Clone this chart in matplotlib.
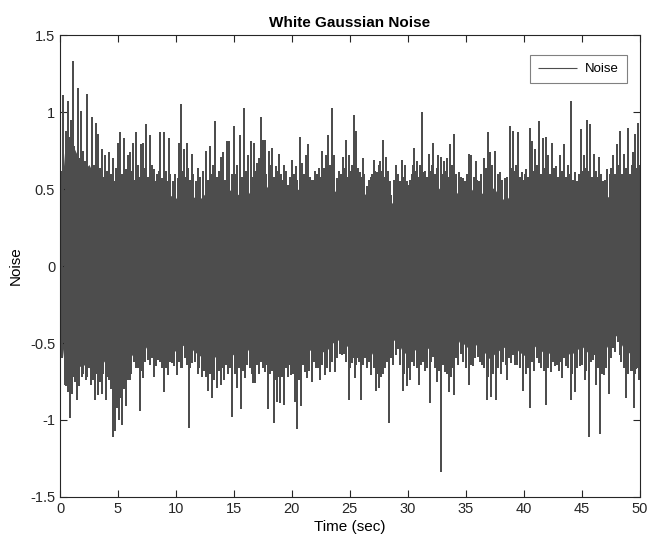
import numpy as np
import matplotlib
matplotlib.use("Agg")
import matplotlib.pyplot as plt

plt.rcParams['font.family'] = ['Liberation Sans', 'DejaVu Sans']
plt.rcParams['axes.unicode_minus'] = False

# dense core of the noise band, read every 0.5 s
band_t = [i * 0.5 for i in range(101)]
band_hi = [0.35, 0.85, 0.80, 0.72, 0.62, 0.66, 0.58, 0.60, 0.55, 0.52, 0.56, 0.55, 0.52,
           0.55, 0.50, 0.52, 0.47, 0.50, 0.48, 0.46, 0.44, 0.52, 0.48, 0.45, 0.43, 0.47,
           0.46, 0.50, 0.44, 0.50, 0.48, 0.46, 0.44, 0.50, 0.52, 0.55, 0.50, 0.48, 0.52,
           0.46, 0.47, 0.50, 0.48, 0.50, 0.45, 0.48, 0.46, 0.50, 0.47, 0.49, 0.46, 0.52,
           0.48, 0.46, 0.49, 0.52, 0.50, 0.40, 0.44, 0.47, 0.43, 0.49, 0.50, 0.47, 0.50,
           0.52, 0.48, 0.46, 0.50, 0.45, 0.44, 0.50, 0.45, 0.48, 0.52, 0.50, 0.44, 0.43,
           0.48, 0.50, 0.46, 0.48, 0.52, 0.50, 0.49, 0.52, 0.46, 0.50, 0.47, 0.42, 0.48,
           0.50, 0.46, 0.48, 0.44, 0.46, 0.48, 0.50, 0.47, 0.46, 0.50]
band_lo = [-0.40, -0.72, -0.70, -0.66, -0.64, -0.66, -0.63, -0.65, -0.60, -0.72, -0.70,
           -0.66, -0.60, -0.55, -0.58, -0.52, -0.55, -0.53, -0.58, -0.56, -0.55, -0.52,
           -0.50, -0.55, -0.58, -0.60, -0.62, -0.58, -0.57, -0.55, -0.58, -0.56, -0.52,
           -0.58, -0.55, -0.56, -0.60, -0.62, -0.60, -0.56, -0.55, -0.58, -0.54, -0.55,
           -0.52, -0.56, -0.55, -0.50, -0.48, -0.50, -0.54, -0.52, -0.55, -0.52, -0.58,
           -0.60, -0.55, -0.50, -0.47, -0.55, -0.58, -0.54, -0.56, -0.52, -0.55, -0.57,
           -0.54, -0.58, -0.55, -0.48, -0.52, -0.55, -0.50, -0.55, -0.60, -0.57, -0.54,
           -0.52, -0.50, -0.55, -0.58, -0.56, -0.52, -0.55, -0.58, -0.54, -0.55, -0.53,
           -0.58, -0.55, -0.52, -0.56, -0.50, -0.58, -0.55, -0.48, -0.45, -0.52, -0.56,
           -0.58, -0.55]

# tall positive peaks
peak_t = [0.29, 0.66, 0.92, 1.09, 1.55, 1.78, 2.02, 2.36, 2.53, 2.79, 3.13, 3.30, 3.59,
          3.88, 4.25, 4.60, 4.97, 5.20, 5.49, 5.83, 6.06, 6.29, 6.58, 6.98, 7.16, 7.39,
          7.76, 8.07, 8.33, 8.65, 8.94, 9.37, 10.26, 10.40, 10.66, 10.92, 11.35, 11.92,
          12.56, 12.93, 13.36, 13.85, 14.08, 14.37, 14.60, 15.00, 15.52, 15.89, 16.24,
          16.44, 16.72, 16.95, 17.30, 17.47, 17.64, 17.99, 18.25, 18.59, 18.91, 19.34,
          19.68, 20.03, 20.32, 20.66, 20.86, 21.21, 21.41, 21.70, 21.98, 22.36, 22.59,
          22.90, 23.10, 23.45, 23.65, 24.08, 24.37, 24.63, 24.89, 25.32, 25.57, 25.86,
          26.09, 26.47, 26.78, 27.04, 27.36, 27.64, 27.90, 28.13, 28.59, 29.02, 29.48,
          29.77, 30.06, 30.46, 30.57, 30.80, 31.18, 31.32, 31.81, 32.18, 32.62, 32.82,
          33.10, 33.39, 33.62, 33.97, 34.40, 34.77, 35.29, 35.49, 35.86, 36.15, 36.55,
          36.90, 37.10, 37.56, 37.93, 38.36, 38.77, 39.05, 39.48, 39.86, 40.23, 40.55,
          40.75, 40.95, 41.32, 41.70, 41.93, 42.10, 42.44, 42.82, 43.16, 43.45, 43.79,
          44.11, 44.40, 44.94, 45.17, 45.49, 45.72, 46.06, 46.49, 46.84, 47.22, 47.70,
          48.07, 48.30, 48.65, 49.02, 49.45, 49.63, 49.86]
peak_v = [1.11, 1.07, 0.95, 1.33, 1.16, 1.01, 0.75, 1.12, 0.57, 0.97, 0.93, 0.86, 0.76,
          0.72, 0.74, 0.70, 0.80, 0.87, 0.83, 0.72, 0.74, 0.80, 0.87, 0.79, 0.80, 0.92,
          0.85, 0.63, 0.60, 0.87, 0.87, 0.83, 0.80, 1.05, 0.76, 0.80, 0.73, 0.64,
          0.75, 0.78, 0.94, 0.71, 0.74, 0.81, 0.81, 0.91, 0.85, 1.03, 0.72,
          0.81, 0.80, 0.67, 0.97, 0.82, 0.82, 0.75, 0.77, 0.65, 0.73, 0.66,
          0.53, 0.69, 0.65, 0.84, 0.67, 0.72, 0.79, 0.56, 0.62, 0.64, 0.75,
          0.72, 0.85, 1.03, 0.72, 0.62, 0.71, 0.82, 0.72, 0.98, 0.88, 0.61,
          0.70, 0.52, 0.58, 0.69, 0.61, 0.68, 0.82, 0.71, 0.46, 0.66, 0.69,
          0.66, 0.53, 0.66, 0.77, 0.68, 1.00, 0.61, 0.73, 0.80, 0.72, 0.71,
          0.68, 0.70, 0.79, 0.86, 0.61, 0.57, 0.73, 0.72, 0.68, 0.55, 0.70,
          0.87, 0.74, 0.75, 0.61, 0.57, 0.91, 0.88, 0.87, 0.61, 0.63, 0.90,
          0.81, 0.76, 0.94, 0.83, 0.84, 0.72, 0.80, 0.65, 0.72, 0.79, 0.66,
          1.07, 0.61, 0.89, 0.72, 0.95, 0.92, 0.73, 0.71, 0.55, 0.63, 0.72,
          0.79, 0.88, 0.73, 0.90, 0.74, 0.86, 0.93]

# tall negative peaks
dip_t = [0.43, 0.72, 0.86, 1.06, 1.29, 1.49, 1.87, 2.21, 2.67, 3.05, 3.30, 3.59, 3.94,
         4.25, 4.57, 4.74, 4.94, 5.12, 5.32, 5.69, 6.03, 6.55, 6.93, 7.18, 7.56, 8.07,
         8.42, 8.94, 9.34, 9.68, 10.09, 10.55, 11.12, 11.41, 11.87, 12.21, 12.73, 13.13,
         13.53, 13.88, 14.14, 14.48, 14.80, 15.23, 15.58, 15.92, 16.67, 16.81, 17.18,
         17.67, 17.96, 18.25, 18.45, 18.68, 18.97, 19.34, 19.68, 19.94, 20.23, 20.43,
         20.75, 21.09, 21.32, 21.72, 22.07, 22.44, 22.84, 23.28, 23.71, 24.14, 24.51,
         24.89, 25.17, 25.40, 25.72, 25.92, 26.44, 26.84, 27.24, 27.53, 27.87, 28.36,
         28.74, 29.17, 29.54, 29.89, 30.17, 30.55, 30.98, 31.44, 31.90, 32.13, 32.53,
         32.90, 33.19, 33.56, 34.00, 34.34, 34.57, 35.26, 35.63, 36.01, 36.41, 36.87,
         37.13, 37.64, 38.02, 38.59, 38.94, 39.22, 39.97, 40.52, 40.89, 41.32, 41.95,
         42.33, 42.67, 43.02, 43.30, 43.68, 44.05, 44.40, 44.83, 45.26, 45.60, 45.98,
         46.21, 46.61, 46.90, 47.36, 47.70, 48.13, 48.42, 48.85, 49.22, 49.48, 49.71,
         49.91]
dip_v = [-0.77, -0.82, -0.99, -0.83, -0.75, -0.87, -0.72, -0.74, -0.77, -0.87, -0.84,
         -0.83, -0.87, -0.74, -1.11, -1.07, -0.92, -1.00, -1.03, -0.91, -0.74, -0.66,
         -0.94, -0.73, -0.61, -0.72, -0.61, -0.82, -0.71, -0.63, -0.71, -0.66, -1.05,
         -0.63, -0.70, -0.72, -0.81, -0.86, -0.79, -0.77, -0.74, -0.70, -0.98, -0.79,
         -0.93, -0.73, -0.76, -0.76, -0.70, -0.69, -0.93, -0.68, -1.02, -0.88, -0.89,
         -0.90, -0.72, -0.71, -0.88, -1.06, -0.91, -0.69, -0.73, -0.75, -0.66, -0.74,
         -0.71, -0.69, -0.69, -0.57, -0.57, -0.87, -0.63, -0.73, -0.60, -0.87, -0.66,
         -0.71, -0.81, -0.79, -0.70, -1.02, -0.64, -0.54, -0.81, -0.78, -0.74, -0.65,
         -0.77, -0.68, -0.89, -0.59, -0.75, -1.34, -0.69, -0.82, -0.84, -0.64, -0.57,
         -0.77, -0.65, -0.59, -0.64, -0.87, -0.85, -0.87, -0.70, -0.74, -0.63, -0.64,
         -0.81, -0.92, -0.68, -0.63, -0.90, -0.69, -0.65, -0.68, -0.73, -0.65, -0.87,
         -0.82, -0.65, -0.74, -1.11, -0.61, -0.77, -1.09, -0.71, -0.83, -0.53, -0.49,
         -0.62, -0.86, -0.68, -0.92, -0.67, -0.74]

# shorter peaks that make the ragged edge of the band (time, value)
mid_peaks = [
    (0.15, 0.62), (0.48, 0.88), (0.80, 0.84), (1.22, 0.78), (1.38, 0.66), (1.68, 0.70),
    (1.92, 0.60), (2.18, 0.68), (2.64, 0.62), (2.95, 0.66), (3.45, 0.64), (3.72, 0.58),
    (4.05, 0.62), (4.42, 0.60), (4.75, 0.55), (4.86, 0.64),
    (5.08, 0.66), (5.35, 0.60), (5.65, 0.63), (5.95, 0.58), (6.18, 0.62), (6.45, 0.56),
    (6.75, 0.66), (6.88, 0.58), (7.28, 0.64), (7.55, 0.58), (7.90, 0.66), (8.20, 0.55),
    (8.50, 0.62), (8.80, 0.57), (9.10, 0.62), (9.22, 0.55), (9.52, 0.60), (9.75, 0.55),
    (9.95, 0.60),
    (10.15, 0.57), (10.52, 0.62), (10.78, 0.58), (11.05, 0.64), (11.22, 0.56),
    (11.50, 0.60), (11.70, 0.55), (12.10, 0.58), (12.30, 0.62), (12.75, 0.56),
    (13.05, 0.60), (13.20, 0.66), (13.55, 0.58), (13.70, 0.62), (14.22, 0.56),
    (14.48, 0.66), (14.80, 0.60), (14.90, 0.55),
    (15.15, 0.60), (15.30, 0.66), (15.70, 0.58), (16.05, 0.62), (16.58, 0.58),
    (16.85, 0.62), (17.12, 0.70), (17.55, 0.64), (17.80, 0.60), (18.10, 0.66),
    (18.42, 0.58), (18.75, 0.62), (19.05, 0.60), (19.20, 0.56), (19.50, 0.62),
    (19.85, 0.58),
    (20.18, 0.60), (20.48, 0.56), (20.75, 0.62), (21.05, 0.60), (21.30, 0.64),
    (21.55, 0.58), (21.85, 0.56), (22.15, 0.60), (22.48, 0.58), (22.75, 0.64),
    (23.00, 0.60), (23.28, 0.66), (23.55, 0.60), (23.85, 0.57), (24.20, 0.60),
    (24.50, 0.64), (24.75, 0.58),
    (25.05, 0.62), (25.20, 0.66), (25.45, 0.60), (25.72, 0.64), (25.98, 0.58),
    (26.25, 0.60), (26.62, 0.56), (26.92, 0.60), (27.20, 0.62), (27.50, 0.66),
    (27.78, 0.62), (28.02, 0.58), (28.30, 0.62), (28.45, 0.55), (28.82, 0.56),
    (29.15, 0.60), (29.32, 0.55), (29.62, 0.58), (29.90, 0.55),
    (30.20, 0.56), (30.35, 0.60), (30.68, 0.62), (30.95, 0.58), (31.05, 0.66),
    (31.45, 0.62), (31.65, 0.58), (31.95, 0.62), (32.05, 0.66), (32.35, 0.60),
    (32.50, 0.64), (32.95, 0.60), (33.25, 0.62), (33.50, 0.58), (33.80, 0.66),
    (34.15, 0.60), (34.55, 0.58), (34.90, 0.55),
    (35.10, 0.60), (35.40, 0.64), (35.70, 0.58), (36.00, 0.56), (36.30, 0.60),
    (36.70, 0.64), (37.00, 0.62), (37.30, 0.66), (37.75, 0.60), (38.10, 0.56),
    (38.55, 0.58), (38.90, 0.64), (39.20, 0.62), (39.35, 0.66), (39.65, 0.58),
    (39.95, 0.56),
    (40.10, 0.60), (40.40, 0.58), (40.65, 0.64), (40.85, 0.62), (41.15, 0.66),
    (41.45, 0.60), (41.80, 0.64), (42.25, 0.60), (42.60, 0.64), (42.95, 0.58),
    (43.30, 0.62), (43.60, 0.58), (43.92, 0.60), (44.25, 0.56), (44.55, 0.55),
    (44.80, 0.60),
    (45.05, 0.62), (45.30, 0.64), (45.60, 0.62), (45.90, 0.58), (46.20, 0.62),
    (46.35, 0.58), (46.65, 0.60), (47.00, 0.56), (47.40, 0.60), (47.55, 0.64),
    (47.85, 0.60), (48.18, 0.66), (48.45, 0.60), (48.80, 0.64), (49.15, 0.60),
    (49.30, 0.66), (49.55, 0.62), (49.75, 0.64), (49.95, 0.66),
]
mid_dips = [
    (0.15, -0.60), (0.55, -0.78), (0.95, -0.80), (1.18, -0.72), (1.40, -0.70),
    (1.65, -0.78), (2.00, -0.70), (2.35, -0.72), (2.50, -0.66), (2.85, -0.74),
    (3.15, -0.70), (3.45, -0.75), (3.75, -0.70), (4.08, -0.72), (4.40, -0.80),
    (4.65, -0.85), (4.85, -0.78),
    (5.02, -0.82), (5.22, -0.86), (5.50, -0.80), (5.85, -0.74), (6.15, -0.70),
    (6.35, -0.62), (6.70, -0.66), (7.05, -0.68), (7.35, -0.62), (7.75, -0.64),
    (7.90, -0.60), (8.25, -0.65), (8.60, -0.62), (8.80, -0.66), (9.15, -0.66),
    (9.50, -0.62), (9.85, -0.65),
    (10.25, -0.62), (10.40, -0.66), (10.80, -0.60), (10.95, -0.64), (11.25, -0.66),
    (11.60, -0.62), (12.00, -0.66), (12.40, -0.68), (12.55, -0.72), (12.95, -0.70),
    (13.30, -0.74), (13.70, -0.68), (14.00, -0.66), (14.30, -0.64), (14.62, -0.66),
    (15.05, -0.70), (15.40, -0.66), (15.75, -0.68),
    (16.10, -0.64), (16.35, -0.66), (16.52, -0.70), (17.00, -0.64), (17.35, -0.62),
    (17.50, -0.66), (17.80, -0.64), (18.10, -0.70), (18.55, -0.74), (18.82, -0.72),
    (19.15, -0.72), (19.50, -0.66), (19.80, -0.64), (20.10, -0.70),
    (20.30, -0.72), (20.60, -0.74), (20.92, -0.64), (21.20, -0.66), (21.50, -0.68),
    (21.88, -0.62), (22.25, -0.66), (22.62, -0.64), (23.05, -0.66), (23.45, -0.62),
    (23.90, -0.60), (24.30, -0.58), (24.70, -0.62), (25.02, -0.66),
    (25.28, -0.60), (25.55, -0.64), (25.80, -0.62), (26.10, -0.64), (26.30, -0.60),
    (26.65, -0.62), (27.05, -0.66), (27.38, -0.70), (27.70, -0.72), (28.05, -0.66),
    (28.20, -0.62), (28.55, -0.60), (28.95, -0.58), (29.35, -0.64), (29.70, -0.70),
    (30.02, -0.66),
    (30.35, -0.62), (30.75, -0.66), (31.15, -0.64), (31.30, -0.62), (31.65, -0.66),
    (32.00, -0.62), (32.35, -0.66), (32.70, -0.68), (33.05, -0.64), (33.38, -0.70),
    (33.75, -0.72), (33.85, -0.66), (34.15, -0.60), (34.80, -0.62),
    (35.05, -0.66), (35.45, -0.64), (35.80, -0.60), (36.20, -0.62), (36.60, -0.66),
    (36.95, -0.72), (37.35, -0.70), (37.80, -0.66), (38.25, -0.62), (38.45, -0.64),
    (38.75, -0.60), (39.05, -0.58), (39.45, -0.64), (39.70, -0.66),
    (40.15, -0.70), (40.35, -0.66), (40.70, -0.62), (41.10, -0.60), (41.50, -0.66),
    (41.75, -0.68), (42.10, -0.66), (42.50, -0.62), (42.85, -0.64), (43.15, -0.62),
    (43.50, -0.60), (43.85, -0.66), (44.20, -0.70), (44.62, -0.66), (45.05, -0.64),
    (45.40, -0.68), (45.80, -0.62), (46.05, -0.58), (46.40, -0.66), (46.75, -0.70),
    (47.10, -0.66), (47.55, -0.60), (47.90, -0.56), (48.28, -0.58), (48.62, -0.66),
    (49.00, -0.70), (49.35, -0.68), (49.60, -0.70), (49.82, -0.66),
]

col = '#4d4d4d'
lw = 1.2

fig = plt.figure(figsize=(6.61, 5.59), dpi=100)
ax = fig.add_axes([0.0908, 0.111, 0.877, 0.826])

ax.fill_between(band_t, band_lo, band_hi, color=col, linewidth=0)
mt, mv = zip(*mid_peaks)
ax.vlines(mt, 0, mv, color=col, linewidth=lw, antialiased=False)
dt, dv = zip(*mid_dips)
ax.vlines(dt, 0, dv, color=col, linewidth=lw, antialiased=False)
ax.vlines(peak_t, 0, peak_v, color=col, linewidth=lw, antialiased=False, label='Noise')
ax.vlines(dip_t, 0, dip_v, color=col, linewidth=lw, antialiased=False)

ax.set_xlim(0, 50)
ax.set_ylim(-1.5, 1.5)
ax.set_xticks(range(0, 51, 5))
ax.set_yticks([-1.5, -1, -0.5, 0, 0.5, 1, 1.5])
ax.set_yticklabels(['-1.5', '-1', '-0.5', '0', '0.5', '1', '1.5'])
ax.tick_params(direction='in', top=True, right=True, length=5, width=0.8,
               labelsize=10.5, colors='#262626')
for s in ax.spines.values():
    s.set_color('#262626')
    s.set_linewidth(0.8)

ax.set_title('White Gaussian Noise', fontsize=11, fontweight='bold', pad=6)
ax.set_xlabel('Time (sec)', fontsize=11, labelpad=3)
ax.set_ylabel('Noise', fontsize=11, labelpad=5)

leg = ax.legend(loc='upper right', bbox_to_anchor=(0.978, 0.957), borderaxespad=0,
                fontsize=9.5, fancybox=False, framealpha=1, edgecolor='#808080',
                handlelength=3.0, handletextpad=0.6, borderpad=0.6)
leg.get_frame().set_linewidth(0.8)
for h in leg.legend_handles:
    h.set_linewidth(0.8)
    h.set_antialiased(True)

fig.savefig('out.png', dpi=100)
